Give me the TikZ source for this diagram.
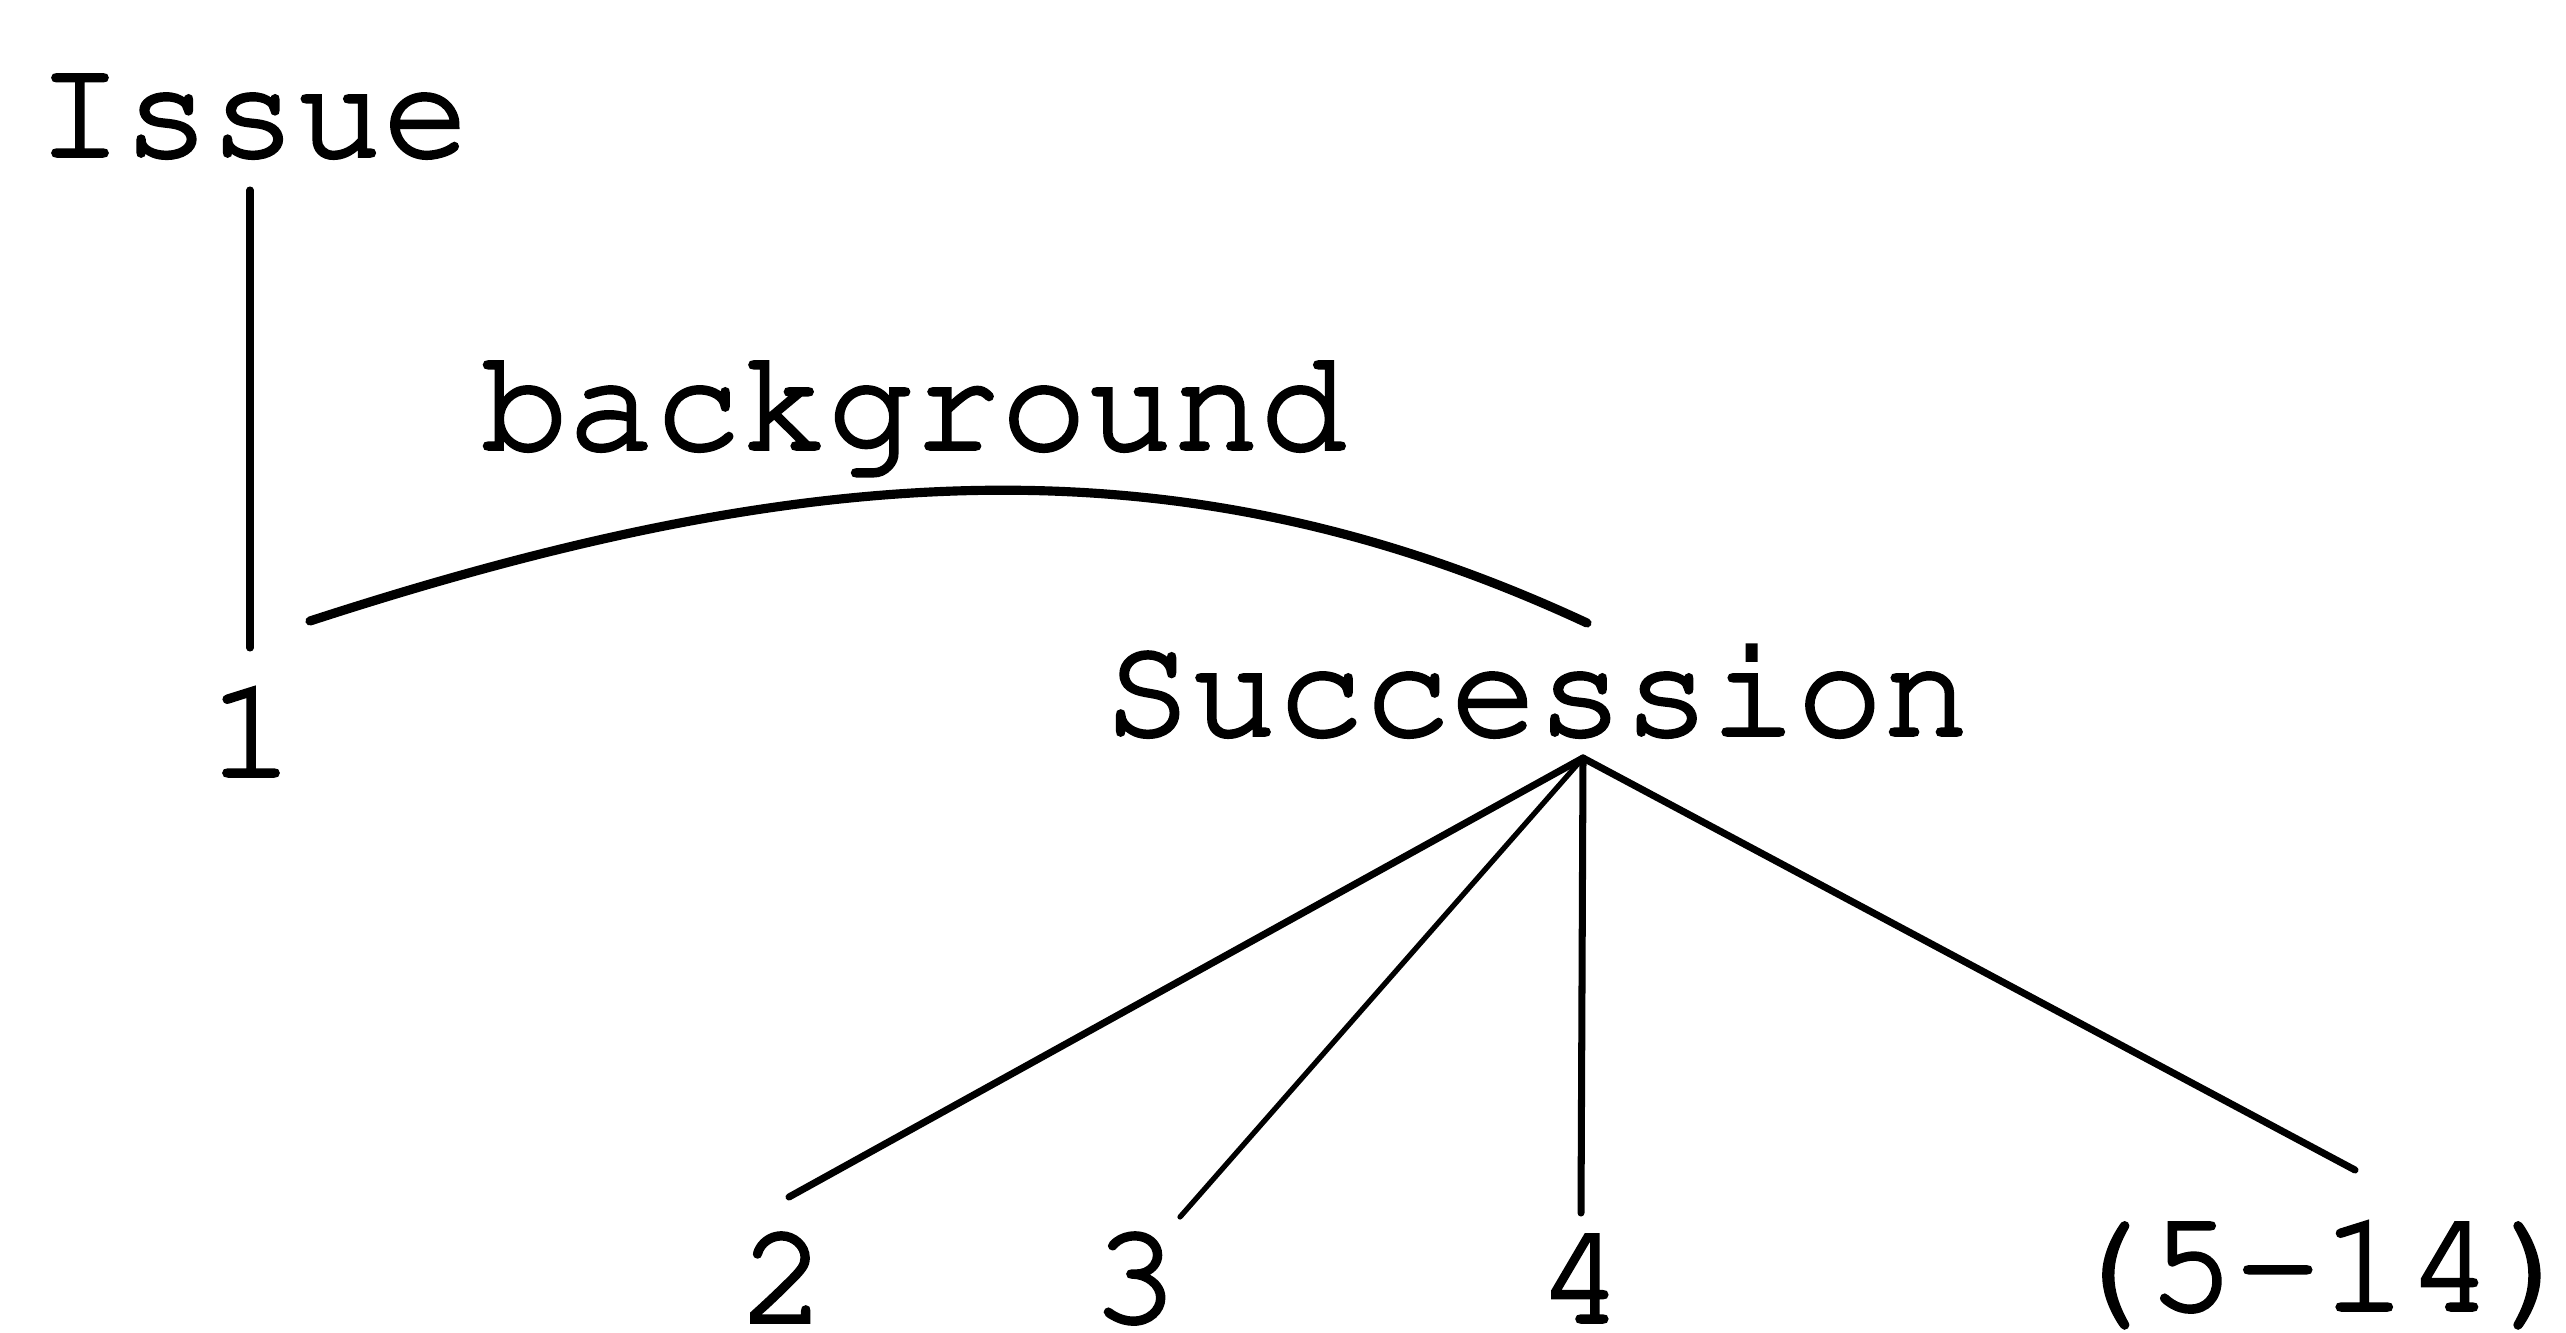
\documentclass[tikz,border=0pt]{standalone}
\usepackage[T1]{fontenc}
\usetikzlibrary{positioning}
% slightly heavier strokes for the typewriter labels
\newcommand{\heavy}[1]{\special{pdf:literal direct 2 Tr 1.0 w}#1\special{pdf:literal direct 0 Tr}}

\begin{document}
\begin{tikzpicture}[
    x=0.01cm, y=0.01cm,
    lbl/.style={inner sep=0pt, anchor=base, font=\fontfamily{pcr}\fontsize{41}{41}\selectfont},
    edge/.style={line width=2pt, line cap=round},
    arc/.style={line width=2.6pt, line cap=round}
  ]
  \useasboundingbox (0,0) rectangle (2566,1332);
  % labels
  \node[lbl] (issue) at (253,1176) {\heavy{Issue}};
  \node[lbl] (bg)    at (914,883)  {\heavy{background}};
  \node[lbl] (one)   at (251,556)  {\heavy{1}};
  \node[lbl] (succ)  at (1537,597) {\heavy{Succession}};
  \node[lbl] (two)   at (783,10)   {\heavy{2}};
  \node[lbl] (three) at (1135,10)  {\heavy{3}};
  \node[lbl] (four)  at (1581,10)  {\heavy{4}};
  \node[lbl] (rest)  at (2321,22)  {\heavy{(5-14)}};
  % line ends
  \coordinate (issue-foot) at (250,1142);
  \coordinate (one-top)    at (250,684);
  \coordinate (arc-from)   at (310,711);
  \coordinate (succ-in)    at (1587,709);
  \coordinate (succ-out)   at (1583,574);
  \coordinate (two-top)    at (789,135);
  \coordinate (three-top)  at (1180,115);
  \coordinate (four-top)   at (1581,119);
  \coordinate (rest-top)   at (2355,162);
  \draw[edge] (issue-foot) -- (one-top);
  \draw[arc] (arc-from) .. controls (805,872) and (1179,899) .. (succ-in);
  \draw[edge] (succ-out) -- (two-top);
  \draw[edge, line width=1.5pt] (succ-out) -- (three-top);
  \draw[edge] (succ-out) -- (four-top);
  \draw[edge] (succ-out) -- (rest-top);
\end{tikzpicture}
\end{document}
